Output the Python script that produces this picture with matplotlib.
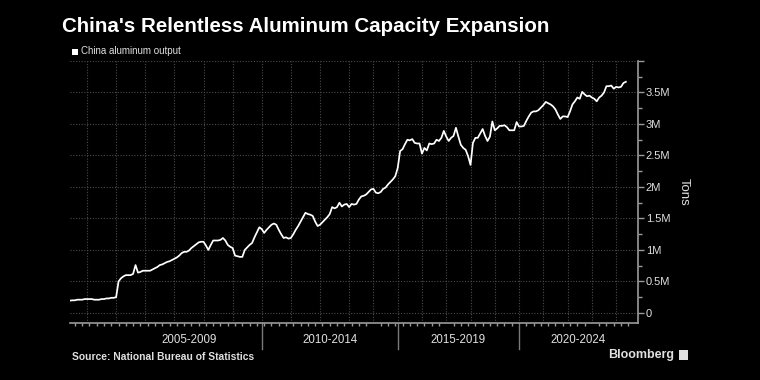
import matplotlib
matplotlib.use("Agg")
import matplotlib.pyplot as plt
from matplotlib.ticker import FixedLocator, FuncFormatter
import numpy as np

plt.rcParams["font.family"] = ["Liberation Sans", "DejaVu Sans"]

# ---------------- data (million tons, monthly; Jan/Feb missing from 2013) -------------
# Each year's values in order; years 2003 (Jun-Dec), 2004-2012 (Jan-Dec), 2013-2024 (Mar-...)
years = list(range(2003, 2025))
values_by_year = {
    2003: [0.196, 0.20, 0.20, 0.21, 0.21, 0.21, 0.22],
    2004: [0.22, 0.22, 0.22, 0.21, 0.21, 0.21, 0.22, 0.22, 0.23, 0.23, 0.24, 0.24],
    2005: [0.25, 0.50, 0.55, 0.58, 0.60, 0.60, 0.60, 0.62, 0.76, 0.64, 0.65, 0.67],
    2006: [0.67, 0.67, 0.67, 0.69, 0.71, 0.73, 0.76, 0.77, 0.79, 0.81, 0.82, 0.84],
    2007: [0.86, 0.88, 0.91, 0.95, 0.97, 0.97, 0.99, 1.03, 1.06, 1.09, 1.12, 1.13],
    2008: [1.13, 1.07, 1.00, 1.08, 1.15, 1.15, 1.15, 1.16, 1.19, 1.15, 1.08, 1.05],
    2009: [1.03, 0.91, 0.90, 0.89, 0.89, 1.00, 1.04, 1.08, 1.11, 1.20, 1.28, 1.36],
    2010: [1.33, 1.27, 1.32, 1.36, 1.40, 1.42, 1.40, 1.32, 1.25, 1.19, 1.20, 1.18],
    2011: [1.19, 1.25, 1.32, 1.38, 1.45, 1.52, 1.59, 1.57, 1.56, 1.54, 1.45, 1.38],
    2012: [1.40, 1.44, 1.48, 1.52, 1.57, 1.68, 1.66, 1.68, 1.75, 1.69, 1.72, 1.73],
    2013: [1.68, 1.73, 1.72, 1.73, 1.80, 1.85, 1.86, 1.88, 1.92, 1.96],
    2014: [1.97, 1.91, 1.90, 1.92, 1.97, 1.99, 2.04, 2.08, 2.12, 2.17],
    2015: [2.30, 2.57, 2.60, 2.68, 2.75, 2.74, 2.76, 2.70, 2.69, 2.69],
    2016: [2.53, 2.62, 2.58, 2.69, 2.68, 2.69, 2.75, 2.73, 2.78, 2.89],
    2017: [2.80, 2.73, 2.78, 2.81, 2.94, 2.80, 2.67, 2.62, 2.59, 2.49],
    2018: [2.35, 2.70, 2.78, 2.78, 2.85, 2.92, 2.81, 2.73, 2.80, 3.04],
    2019: [2.90, 2.93, 2.97, 2.97, 2.98, 2.95, 2.90, 2.90, 2.90, 3.03],
    2020: [2.96, 2.96, 2.97, 3.05, 3.12, 3.18, 3.20, 3.20, 3.22, 3.26],
    2021: [3.30, 3.35, 3.33, 3.31, 3.28, 3.23, 3.15, 3.08, 3.12, 3.12],
    2022: [3.11, 3.20, 3.31, 3.36, 3.42, 3.40, 3.51, 3.47, 3.44, 3.45],
    2023: [3.42, 3.40, 3.36, 3.42, 3.45, 3.50, 3.60, 3.60, 3.61, 3.56],
    2024: [3.59, 3.58, 3.59, 3.65, 3.67],
}
group_labels = ["2005-2009", "2010-2014", "2015-2019", "2020-2024"]
group_starts = [2005, 2010, 2015, 2020]
ytick_values = [0, 0.5, 1, 1.5, 2, 2.5, 3, 3.5, 4]
ytick_labels = ["0", "0.5M", "1M", "1.5M", "2M", "2.5M", "3M", "3.5M", ""]

title = "China's Relentless Aluminum Capacity Expansion"
legend_label = "China aluminum output"
source = "Source: National Bureau of Statistics"

# ---------------- build series on an index axis ----------------
vals = []
year_start_idx = {}
for y in years:
    year_start_idx[y] = len(vals)
    vals.extend(values_by_year[y])
vals = np.array(vals)
x = np.arange(len(vals))
n_total = len(vals)

BG = "black"
FG = "#e0e0e0"
GRID = "#4a4a4a"

fig = plt.figure(figsize=(7.6, 3.8), dpi=100, facecolor=BG)
ax = fig.add_axes([70 / 760, 1 - 323 / 380, (638 - 70) / 760, (323 - 61) / 380], facecolor=BG)

ax.plot(x, vals, color="white", lw=1.25, solid_joinstyle="round")

ax.set_xlim(0, n_total + 4)
ax.set_ylim(-0.16, 4.0)

# y axis on right
ax.yaxis.tick_right()
ax.yaxis.set_major_locator(FixedLocator(ytick_values))
ax.yaxis.set_major_formatter(FuncFormatter(lambda v, p: ytick_labels[ytick_values.index(round(v, 2))] if round(v, 2) in ytick_values else ""))
ax.yaxis.set_minor_locator(FixedLocator(np.arange(0.25, 4.0, 0.5)))
ax.tick_params(axis="y", which="major", colors="#9a9a9a", labelcolor=FG, length=4, width=1, labelsize=8, pad=1.5)
ax.tick_params(axis="y", which="minor", colors="#9a9a9a", length=3, width=1)
ax.set_ylabel("Tons", color=FG, fontsize=9.5, rotation=270, labelpad=14)
ax.yaxis.set_label_position("right")

# x axis: year gridlines, quarterly minor ticks
year_ticks = [year_start_idx[y] for y in years[1:]]
ax.set_xticks(year_ticks)
ax.set_xticklabels([])
ax.set_xticks(np.arange(2, n_total + 3, 3), minor=True)
ax.tick_params(axis="x", which="major", length=0)
ax.tick_params(axis="x", which="minor", colors="#9a9a9a", length=2.5, width=1, direction="out")

ax.grid(True, which="major", axis="both", color=GRID, linestyle=(0, (1, 1.5)), linewidth=0.8)

for s in ["top", "left"]:
    ax.spines[s].set_visible(False)
ax.spines["bottom"].set_color("#9a9a9a")
ax.spines["right"].set_color("#9a9a9a")
ax.spines["bottom"].set_linewidth(1.2)
ax.spines["right"].set_linewidth(1.2)

# group separators and labels
trans = ax.get_xaxis_transform()
bounds = [year_start_idx[g] for g in group_starts] + [n_total + 4]
for i, lab in enumerate(group_labels):
    a, b = bounds[i], bounds[i + 1]
    ax.text((a + b) / 2, -0.065, lab, transform=trans, ha="center", va="center", color=FG, fontsize=8.3)
    if i > 0:
        ax.plot([a, a], [0, -0.1], transform=trans, color="#7a7a7a", lw=1, clip_on=False)

# title, legend, source
fig.text(62 / 760, 1 - 27 / 380, title, color="white", fontsize=14.8, fontweight="bold",
         ha="left", va="center")
fig.patches.append(plt.Rectangle((72 / 760, 1 - 55 / 380), 6 / 760, 6 / 380, transform=fig.transFigure,
                                 facecolor="white", edgecolor="none"))
fig.text(81 / 760, 1 - 51.5 / 380, legend_label, color=FG, fontsize=7, ha="left", va="center")
fig.text(72 / 760, 1 - 357 / 380, source, color=FG, fontsize=7.4, fontweight="bold", ha="left", va="center")
fig.text(674 / 760, 1 - 355 / 380, "Bloomberg", color=FG, fontsize=9, fontweight="bold", ha="right", va="center")
fig.patches.append(plt.Rectangle((679 / 760, 1 - 360 / 380), 9 / 760, 10 / 380, transform=fig.transFigure,
                                 facecolor=FG, edgecolor="none"))

fig.savefig("out.png", dpi=100, facecolor=BG)
